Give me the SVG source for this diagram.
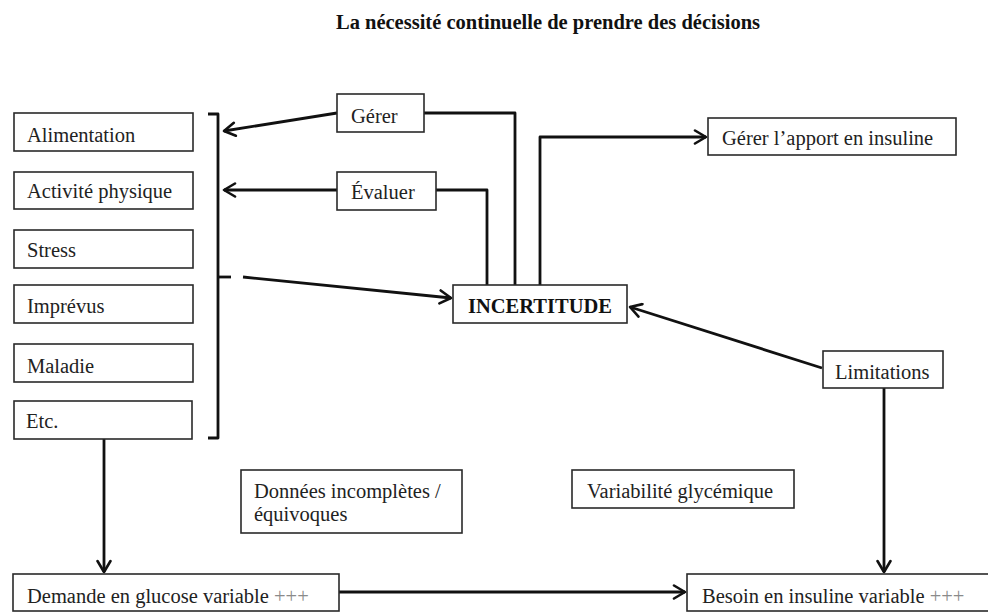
<svg xmlns="http://www.w3.org/2000/svg" width="988" height="613" viewBox="0 0 988 613">
<style>
.box{fill:#fff;stroke:#2a2a2a;stroke-width:1.6}
.t{font-family:"Liberation Serif","Times New Roman",serif;font-size:20.5px;fill:#222}
.b{font-weight:bold;fill:#111}
.p{fill:#8a8a8a}
.c{fill:none;stroke:#111;stroke-width:2.8;stroke-linejoin:round}
</style>
<defs>
<marker id="arr" viewBox="0 0 16 16" refX="14" refY="8" markerWidth="16" markerHeight="16" orient="auto" markerUnits="userSpaceOnUse">
<path d="M3,1.5 L14,8 L3,14.5" fill="none" stroke="#111" stroke-width="2.6" stroke-linejoin="round" stroke-linecap="round"/>
</marker>
</defs>
<rect width="988" height="613" fill="#fff"/>
<text class="t b" x="548" y="29" text-anchor="middle">La nécessité continuelle de prendre des décisions</text>

<g id="connectors">
<path class="c" d="M208,114 L218,114 L218,438 L208,438"/>
<path class="c" d="M218,277 L231,277"/>
<path class="c" d="M337,113 L224,131" marker-end="url(#arr)"/>
<path class="c" d="M337,190 L224,190" marker-end="url(#arr)"/>
<path class="c" d="M243,277 L451,298" marker-end="url(#arr)"/>
<path class="c" d="M424,113 L515,113 L515,285"/>
<path class="c" d="M436,190 L487,190 L487,285"/>
<path class="c" d="M540,285 L540,137 L706,137" marker-end="url(#arr)"/>
<path class="c" d="M822,368 L630,307" marker-end="url(#arr)"/>
<path class="c" d="M884,388 L884,572" marker-end="url(#arr)"/>
<path class="c" d="M104,439 L104,572" marker-end="url(#arr)"/>
<path class="c" d="M339,592 L685,592" marker-end="url(#arr)"/>
</g>

<g id="alimentation"><rect class="box" x="14" y="113" width="179" height="38"/><text class="t" x="27" y="142">Alimentation</text></g>
<g id="activite"><rect class="box" x="14" y="172" width="179" height="37"/><text class="t" x="27" y="198">Activité physique</text></g>
<g id="stress"><rect class="box" x="14" y="230" width="179" height="38"/><text class="t" x="27" y="257">Stress</text></g>
<g id="imprevus"><rect class="box" x="14" y="285" width="179" height="38"/><text class="t" x="27" y="313">Imprévus</text></g>
<g id="maladie"><rect class="box" x="14" y="344" width="179" height="38"/><text class="t" x="27" y="373">Maladie</text></g>
<g id="etc"><rect class="box" x="14" y="401" width="178" height="38"/><text class="t" x="26" y="428">Etc.</text></g>

<g id="gerer"><rect class="box" x="337" y="94" width="87" height="38"/><text class="t" x="351" y="123">Gérer</text></g>
<g id="evaluer"><rect class="box" x="337" y="172" width="99" height="38"/><text class="t" x="351" y="199">Évaluer</text></g>
<g id="incertitude"><rect class="box" x="453" y="285" width="174" height="38"/><text class="t b" x="540" y="313" text-anchor="middle">INCERTITUDE</text></g>
<g id="gerer-insuline"><rect class="box" x="708" y="118" width="248" height="37"/><text class="t" x="722" y="145">Gérer l’apport en insuline</text></g>
<g id="limitations"><rect class="box" x="823" y="351" width="120" height="37"/><text class="t" x="835" y="379">Limitations</text></g>
<g id="donnees"><rect class="box" x="241" y="470" width="221" height="63"/><text class="t" x="254" y="498">Données incomplètes /</text><text class="t" x="254" y="521">équivoques</text></g>
<g id="variabilite"><rect class="box" x="572" y="470" width="222" height="38"/><text class="t" x="587" y="498">Variabilité glycémique</text></g>
<g id="demande"><rect class="box" x="13" y="574" width="326" height="37"/><text class="t" x="27" y="603">Demande en glucose variable <tspan class="p">+++</tspan></text></g>
<g id="besoin"><rect class="box" x="687" y="574" width="305" height="37"/><text class="t" x="702" y="603">Besoin en insuline variable <tspan class="p">+++</tspan></text></g>
</svg>
